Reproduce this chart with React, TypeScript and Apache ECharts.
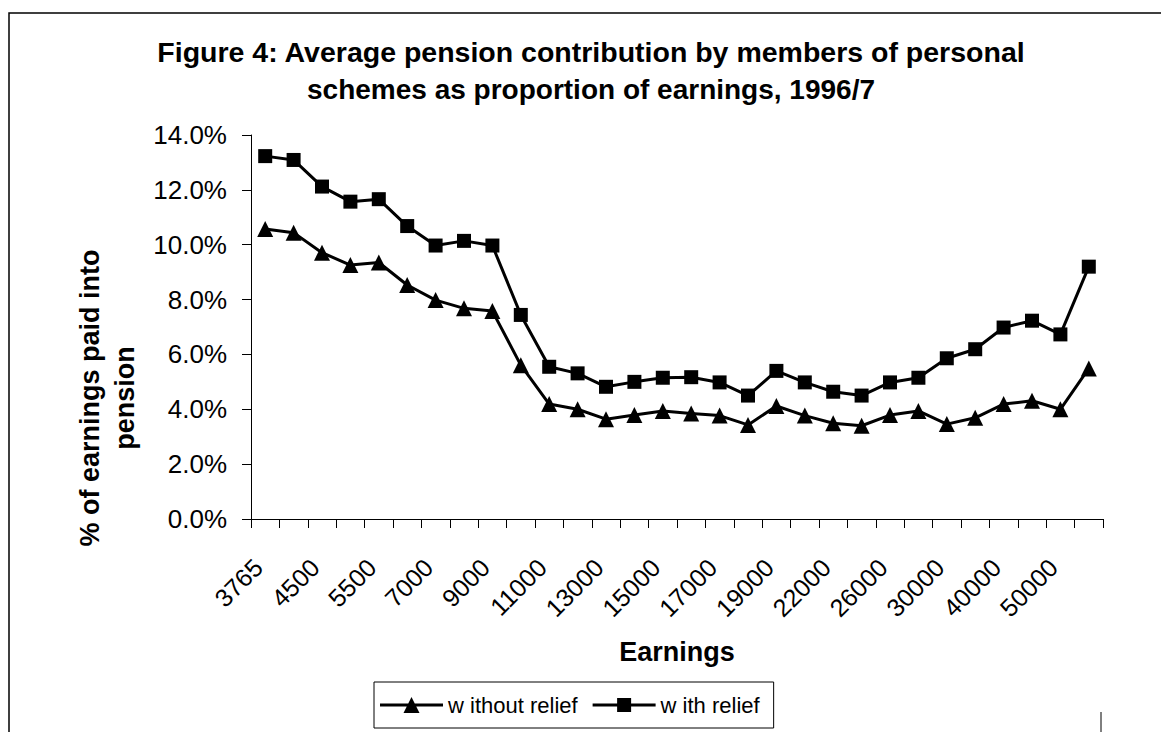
import React, { useEffect, useRef } from "react";
import * as echarts from "echarts";

const categories = [
  "3765", "4000", "4500", "5000", "5500", "6000", "7000", "8000", "9000", "10000",
  "11000", "12000", "13000", "14000", "15000", "16000", "17000", "18000", "19000", "20000",
  "22000", "24000", "26000", "28000", "30000", "35000", "40000", "45000", "50000", "60000",
];

const withoutRelief = [
  10.57, 10.44, 9.71, 9.26, 9.35, 8.53, 7.98, 7.68, 7.58, 5.61,
  4.19, 4.0, 3.64, 3.79, 3.94, 3.85, 3.77, 3.43, 4.12, 3.77,
  3.49, 3.4, 3.79, 3.94, 3.46, 3.69, 4.19, 4.31, 4.0, 5.49,
];

const withRelief = [
  13.23, 13.09, 12.12, 11.57, 11.66, 10.68, 9.97, 10.14, 9.97, 7.44,
  5.55, 5.31, 4.82, 5.0, 5.15, 5.17, 4.98, 4.5, 5.4, 4.98,
  4.64, 4.5, 4.98, 5.15, 5.86, 6.19, 6.98, 7.23, 6.73, 9.2,
];

const yTicks = { min: 0, max: 14, interval: 2 };

const titleLines = [
  "Figure 4: Average pension contribution by members of personal",
  "schemes as proportion of earnings, 1996/7",
];
const yTitleLines = ["% of earnings paid into", "pension"];
const xTitle = "Earnings";
const seriesNames = ["w ithout relief", "w ith relief"];

const FONT = "'Liberation Sans', Arial, sans-serif";

const ICON_TRIANGLE =
  "path://M0 7.5 H63 V10.5 H0 Z M31.5 1 L39.5 17 L23.5 17 Z";
const ICON_SQUARE =
  "path://M0 7.5 H63 V10.5 H0 Z M24.5 2 H38.5 V16 H24.5 Z M31.5 1 L31.5 1 Z M31.5 17 L31.5 17 Z";

export default function App() {
  const ref = useRef<HTMLDivElement>(null);

  useEffect(() => {
    if (!ref.current) return;
    const chart = echarts.init(ref.current, undefined, { renderer: "svg" });
    chart.setOption({
      animation: false,
      backgroundColor: "#fff",
      textStyle: { fontFamily: FONT, color: "#000" },
      grid: { left: 251, top: 135, right: 58, bottom: 213, containLabel: false },
      graphic: [
        {
          type: "rect",
          shape: { x: 9, y: 13, width: 1300, height: 900 },
          style: { fill: "none", stroke: "#000", lineWidth: 1.5 },
          silent: true,
        },
        {
          type: "line",
          shape: { x1: 1101, y1: 712, x2: 1101, y2: 735 },
          style: { stroke: "#000", lineWidth: 1 },
          silent: true,
        },
        {
          type: "text",
          x: 591,
          y: 52,
          style: {
            text: titleLines[0],
            textAlign: "center",
            textVerticalAlign: "middle",
            font: `bold 28.5px ${FONT}`,
            fill: "#000",
          },
        },
        {
          type: "text",
          x: 591,
          y: 89,
          style: {
            text: titleLines[1],
            textAlign: "center",
            textVerticalAlign: "middle",
            font: `bold 28px ${FONT}`,
            fill: "#000",
          },
        },
        {
          type: "text",
          x: 90,
          y: 398,
          rotation: Math.PI / 2,
          style: {
            text: yTitleLines[0],
            textAlign: "center",
            textVerticalAlign: "middle",
            font: `bold 27px ${FONT}`,
            fill: "#000",
          },
        },
        {
          type: "text",
          x: 125,
          y: 398,
          rotation: Math.PI / 2,
          style: {
            text: yTitleLines[1],
            textAlign: "center",
            textVerticalAlign: "middle",
            font: `bold 27px ${FONT}`,
            fill: "#000",
          },
        },
      ],
      legend: {
        left: 374,
        top: 682,
        padding: [12, 14, 12, 6],
        itemGap: 15,
        itemWidth: 63,
        itemHeight: 16,
        borderColor: "#000",
        borderWidth: 1,
        backgroundColor: "#fff",
        itemStyle: { color: "#000", borderWidth: 0 },
        textStyle: { fontFamily: FONT, fontSize: 22, color: "#000" },
        data: [
          { name: seriesNames[0], icon: ICON_TRIANGLE },
          { name: seriesNames[1], icon: ICON_SQUARE },
        ],
      },
      xAxis: {
        type: "category",
        data: categories,
        boundaryGap: true,
        name: xTitle,
        nameLocation: "middle",
        nameGap: 119,
        nameTextStyle: { fontFamily: FONT, fontSize: 27, fontWeight: "bold", color: "#000" },
        axisLine: { lineStyle: { color: "#000", width: 1 } },
        axisTick: { show: true, interval: 0, length: 9, lineStyle: { color: "#000" } },
        axisLabel: {
          interval: 1,
          rotate: 45,
          margin: 37,
          padding: [0, 10, 0, 0],
          fontSize: 25,
          fontFamily: FONT,
          color: "#000",
        },
        splitLine: { show: false },
      },
      yAxis: {
        type: "value",
        min: yTicks.min,
        max: yTicks.max,
        interval: yTicks.interval,
        axisLine: { show: true, lineStyle: { color: "#000", width: 1 } },
        axisTick: { show: true, length: 9, lineStyle: { color: "#000" } },
        axisLabel: {
          margin: 24,
          fontSize: 26,
          fontFamily: FONT,
          color: "#000",
          formatter: (v: number) => v.toFixed(1) + "%",
        },
        splitLine: { show: false },
      },
      series: [
        {
          name: seriesNames[0],
          type: "line",
          data: withoutRelief,
          symbol: "triangle",
          symbolSize: 16,
          lineStyle: { color: "#000", width: 3 },
          itemStyle: { color: "#000" },
        },
        {
          name: seriesNames[1],
          type: "line",
          data: withRelief,
          symbol: "rect",
          symbolSize: 14,
          lineStyle: { color: "#000", width: 3 },
          itemStyle: { color: "#000" },
        },
      ],
    });
    return () => chart.dispose();
  }, []);

  return (
    <div
      ref={ref}
      style={{ position: "absolute", left: 0, top: 0, width: 1161, height: 732 }}
    />
  );
}
